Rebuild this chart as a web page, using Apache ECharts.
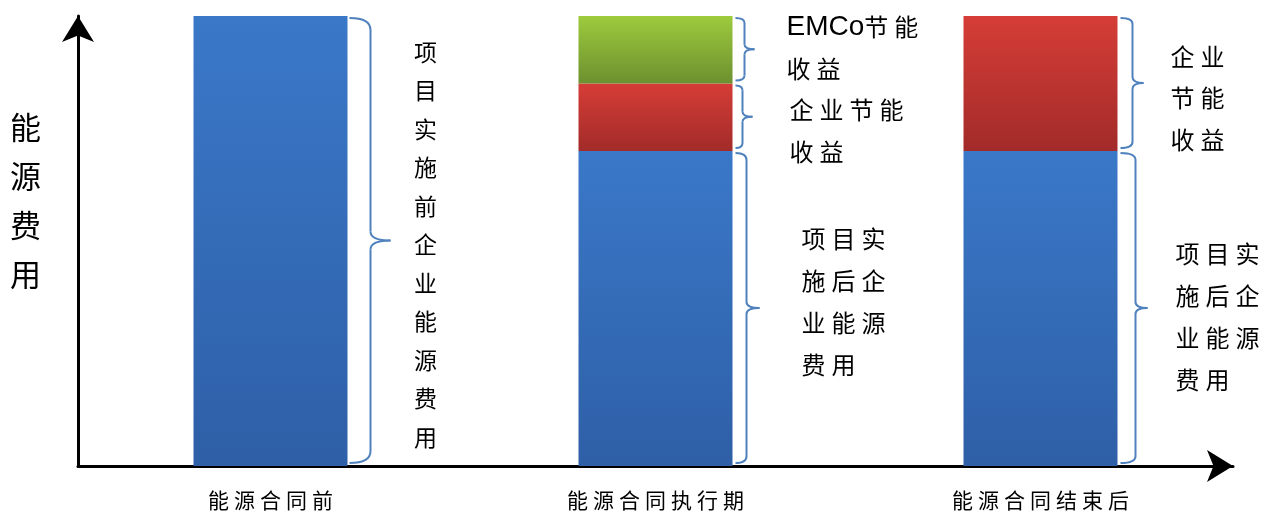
<!DOCTYPE html>
<html><head><meta charset="utf-8">
<script src="https://cdn.jsdelivr.net/npm/echarts@6/dist/echarts.min.js"></script>
<style>html,body{margin:0;padding:0;background:#fff}#c{width:1271px;height:515px}</style>
</head><body><div id="c"></div>
<script>
// ---- data ----
const categories = ['能源合同前', '能源合同执行期', '能源合同结束后'];
const costValues = [100, 70, 70];        // 企业能源费用
const enterpriseSaving = [0, 15, 30];    // 企业节能收益
const emcoSaving = [0, 15, 0];           // EMCo节能收益
const yAxisTitle = ['能', '源', '费', '用'];
const textBefore = ['项', '目', '实', '施', '前', '企', '业', '能', '源', '费', '用'];
const textAfter = ['项目实', '施后企', '业能源', '费用'];
const textEnterpriseA = ['企业节能', '收益'];
const textEnterpriseB = ['企业', '节能', '收益'];
const textEmco = ['EMCo节能', '收益'];

// ---- annotations built from the data ----
const annotations = [
  { cat: 0, lo: 0, hi: costValues[0], lines: textBefore },
  { cat: 1, lo: 0, hi: costValues[1], lines: textAfter },
  { cat: 1, lo: costValues[1], hi: costValues[1] + enterpriseSaving[1], lines: textEnterpriseA },
  { cat: 1, lo: costValues[1] + enterpriseSaving[1], hi: costValues[1] + enterpriseSaving[1] + emcoSaving[1], lines: textEmco },
  { cat: 2, lo: 0, hi: costValues[2], lines: textAfter },
  { cat: 2, lo: costValues[2], hi: costValues[2] + enterpriseSaving[2], lines: textEnterpriseB }
];

// ---- styling / layout (pixels, not data) ----
const BAR_W = 154;
const CJK = '"Noto Sans CJK SC", sans-serif';
const looks = [
  { gap: 2, depth: 23, tip: 43, r: 12, rm: 9, tx: 78, dy: 4, column: true, fs: 23, lh: 38.5 },
  { gap: 3, depth: 14, tip: 27, r: 7, rm: 6, tx: 69, dy: -6, lh: 42 },
  { gap: 3, depth: 10, tip: 20, r: 5, rm: 5, tx: 57, dy: 14, lh: 42 },
  { gap: 3, depth: 12, tip: 22, r: 5, rm: 5, tx: 54, dy: -1, lh: 42 },
  { gap: 3, depth: 18, tip: 30, r: 7, rm: 6, tx: 58, dy: 9, lh: 42 },
  { gap: 3, depth: 15, tip: 26, r: 6, rm: 6, tx: 53, dy: 15, lh: 41.5 }
];
const BRACE = '#4f81bd';

function richLine(line) {
  let out = '', run = '';
  for (const ch of line) {
    if (/[\x00-\x7f]/.test(ch)) { run += ch; }
    else {
      if (run) { out += '{l|' + run + '}'; run = ''; }
      out += '{c|' + ch + '}';
    }
  }
  if (run) out += '{l|' + run + '}';
  return out;
}

function braceChildren(xa, xb, xc, y0, y1, r, rm) {
  const ym = (y0 + y1) / 2;
  const s = { stroke: BRACE, lineWidth: 2, fill: null };
  return [
    { type: 'bezierCurve', shape: { x1: xa, y1: y0, x2: xb, y2: y0 + r, cpx1: xb, cpy1: y0 }, style: s },
    { type: 'line', shape: { x1: xb, y1: y0 + r, x2: xb, y2: ym - rm }, style: s },
    { type: 'bezierCurve', shape: { x1: xb, y1: ym - rm, x2: xc, y2: ym, cpx1: xb, cpy1: ym }, style: s },
    { type: 'bezierCurve', shape: { x1: xc, y1: ym, x2: xb, y2: ym + rm, cpx1: xb, cpy1: ym }, style: s },
    { type: 'line', shape: { x1: xb, y1: ym + rm, x2: xb, y2: y1 - r }, style: s },
    { type: 'bezierCurve', shape: { x1: xb, y1: y1 - r, x2: xa, y2: y1, cpx1: xb, cpy1: y1 }, style: s }
  ];
}

function renderAnnotation(params, api) {
  const i = params.dataIndex;
  const a = annotations[i], L = looks[i];
  const pLo = api.coord([api.value(0), api.value(1)]);
  const pHi = api.coord([api.value(0), api.value(2)]);
  const right = pLo[0] + BAR_W / 2;
  const y0 = pHi[1] + 2, y1 = pLo[1] - 3;
  const children = braceChildren(right + L.gap, right + L.depth, right + L.tip, y0, y1, L.r, L.rm);
  const ym = (y0 + y1) / 2;
  if (L.column) {
    children.push({
      type: 'text',
      style: {
        text: a.lines.join('\n'), x: right + L.tx, y: ym + L.dy,
        align: 'center', verticalAlign: 'middle',
        fontSize: L.fs, lineHeight: L.lh, fontFamily: CJK, fill: '#000'
      }
    });
  } else {
    children.push({
      type: 'text',
      style: {
        text: a.lines.map(richLine).join('\n'), x: right + L.tx, y: ym + L.dy,
        align: 'left', verticalAlign: 'middle', fill: '#000',
        rich: {
          c: { width: 30, fontSize: 24, lineHeight: L.lh, fontFamily: CJK, fill: '#000' },
          l: { fontSize: 28, lineHeight: L.lh, fontFamily: '"Liberation Sans", Arial, sans-serif', fill: '#000' }
        }
      }
    });
  }
  return { type: 'group', children };
}

function grad(top, bottom) {
  return new echarts.graphic.LinearGradient(0, 0, 0, 1, [
    { offset: 0, color: top }, { offset: 1, color: bottom }
  ]);
}

const chart = echarts.init(document.getElementById('c'), null, { renderer: 'canvas' });
chart.setOption({
  animation: false,
  backgroundColor: '#fff',
  title: {
    text: yAxisTitle.join('\n'),
    left: 10, top: 103, padding: 0,
    textStyle: { fontSize: 31, lineHeight: 49, fontFamily: CJK, color: '#000', fontWeight: 'normal' }
  },
  grid: { left: 78, right: 38, top: 16, bottom: 49, containLabel: false },
  xAxis: {
    type: 'category',
    data: categories,
    axisLine: { show: true, symbol: ['none', 'arrow'], symbolSize: [24, 26], lineStyle: { color: '#000', width: 3 } },
    axisTick: { show: false },
    axisLabel: {
      margin: 24,
      formatter: v => v.split('').map(ch => '{c|' + ch + '}').join(''),
      rich: { c: { width: 26, align: 'center', fontSize: 21, fontFamily: CJK, color: '#000' } }
    },
    splitLine: { show: false }
  },
  yAxis: {
    type: 'value', min: 0, max: 100,
    axisLine: { show: true, symbol: ['none', 'arrow'], symbolSize: [24, 26], lineStyle: { color: '#000', width: 3 } },
    axisTick: { show: false }, axisLabel: { show: false }, splitLine: { show: false }
  },
  series: [
    { name: '企业能源费用', type: 'bar', stack: 't', barWidth: BAR_W, data: costValues,
      itemStyle: { color: grad('#3a78c8', '#2e5fa7') } },
    { name: '企业节能收益', type: 'bar', stack: 't', barWidth: BAR_W, data: enterpriseSaving,
      itemStyle: { color: grad('#d63d37', '#a22b29') } },
    { name: 'EMCo节能收益', type: 'bar', stack: 't', barWidth: BAR_W, data: emcoSaving,
      itemStyle: { color: grad('#9dcb3d', '#6c902f') } },
    { type: 'custom', renderItem: renderAnnotation, z: 5, clip: false,
      data: annotations.map(a => [a.cat, a.lo, a.hi]) }
  ]
});
</script></body></html>
